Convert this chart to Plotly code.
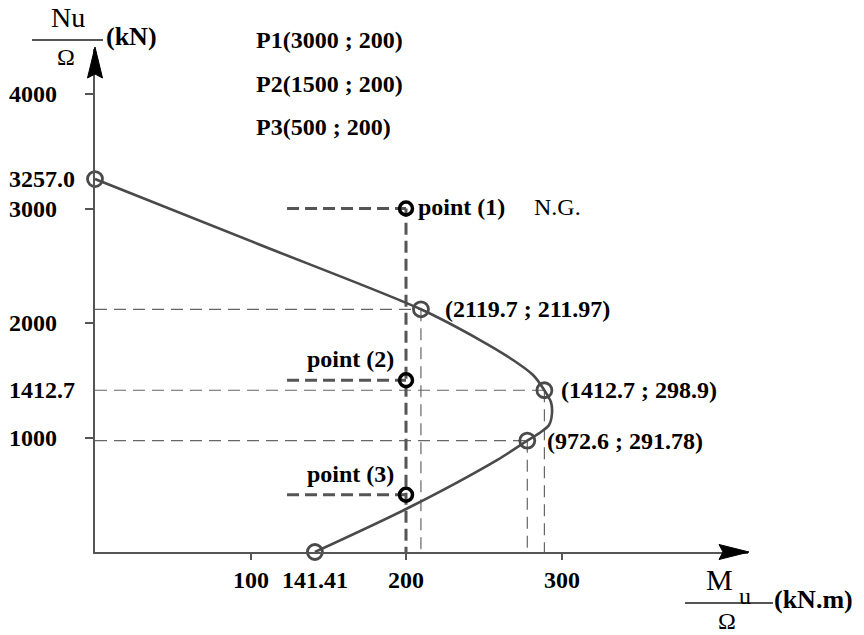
import plotly.graph_objects as go

# ---------------- data ----------------
M_curve = [0, 104.8, 209.6, 247.6, 268.8, 281.7, 289.0, 293.2, 293.9, 292.0, 286.8, 278.0, 258.5, 201.3, 141.41]
N_curve = [3257.0, 2690, 2119.7, 1851, 1677, 1546, 1412.7, 1310, 1214, 1109, 1048, 972.6, 803, 384, 0]

M_key = [0, 209.6, 289.0, 278.0, 141.41]
N_key = [3257.0, 2119.7, 1412.7, 972.6, 0]
key_labels = ["", "(2119.7 ; 211.97)", "(1412.7 ; 298.9)", "(972.6 ; 291.78)", ""]

M_check = [200, 200, 200]
N_check = [3000, 1500, 500]
check_labels = ["point (1)", "point (2)", "point (3)"]
check_info = ["P1(3000 ; 200)", "P2(1500 ; 200)", "P3(500 ; 200)"]
M_check_dash_start = 123.5

x_tickvals = [100, 141.41, 200, 300]
x_ticktext = ["100", "141.41", "200", "300"]
y_tickvals = [1000, 1412.7, 2000, 3000, 3257.0, 4000]
y_ticktext = ["1000", "1412.7", "2000", "3000", "3257.0", "4000"]
y_tickmarks = [1000, 2000, 3000, 4000]
x_tickmarks = [100, 200, 300]

# ---------------- layout geometry ----------------
W, H = 864, 635
L, R, T, B = 95, 116, 49, 83
PW, PH = W - L - R, H - T - B
X_MAX = PW / 1.555
Y_MAX = PH / 0.1145


def pxx(xp):
    return (xp - L) / PW


def pxy(yp):
    return (H - B - yp) / PH


FONT = "Liberation Serif"
GREY = "#555555"
DGREY = "#4a4a4a"

fig = go.Figure()

# thin dashed guide lines to the key points
gx, gy = [], []
for m, n in zip(M_key[1:4], N_key[1:4]):
    gx += [0, m, None, m, m, None]
    gy += [n, n, None, n, 0, None]
fig.add_trace(go.Scatter(x=gx, y=gy, mode="lines", hoverinfo="skip",
                         line=dict(color="#666666", width=1.2, dash="12px,7px")))

# thick dashed lines for checked points
cx, cy = [], []
for m, n in zip(M_check, N_check):
    cx += [M_check_dash_start, m, None]
    cy += [n, n, None]
cx += [M_check[0], M_check[0]]
cy += [-60, max(N_check)]
fig.add_trace(go.Scatter(x=cx, y=cy, mode="lines", hoverinfo="skip", cliponaxis=False,
                         line=dict(color=GREY, width=3, dash="12px,6px")))

# interaction curve
fig.add_trace(go.Scatter(x=M_curve, y=N_curve, mode="lines",
                         line=dict(color=DGREY, width=2.6, shape="spline", smoothing=0.8)))

# key markers
fig.add_trace(go.Scatter(x=M_key, y=N_key, mode="markers", cliponaxis=False,
                         marker=dict(symbol="circle-open", size=15, color=DGREY,
                                     line=dict(width=2.8, color=DGREY))))

# checked points
fig.add_trace(go.Scatter(x=M_check, y=N_check, mode="markers", cliponaxis=False,
                         marker=dict(symbol="circle-open", size=13, color="#000000",
                                     line=dict(width=3.5, color="#000000"))))

ann = []
bold = dict(family=FONT, size=24, color="#000000", weight="bold")
reg = dict(family=FONT, size=24, color="#000000")

# y tick labels (left aligned)
for v, t in zip(y_tickvals, y_ticktext):
    ann.append(dict(x=0, y=v, xref="x", yref="y", text=t, showarrow=False,
                    xanchor="left", yanchor="middle", xshift=-88, font=bold))
# x tick labels
for v, t in zip(x_tickvals, x_ticktext):
    ann.append(dict(x=v, y=pxy(580), xref="x", yref="paper", text=t, showarrow=False,
                    xanchor="center", yanchor="middle", font=bold))

# key point labels
key_dx = [0, 22, 15, 18]
for i in range(1, 4):
    ann.append(dict(x=M_key[i], y=N_key[i], xref="x", yref="y", text=key_labels[i],
                    showarrow=False, xanchor="left", yanchor="middle",
                    xshift=key_dx[i], font=bold))

# checked point labels
ann.append(dict(x=M_check[0], y=N_check[0], xref="x", yref="y", text=check_labels[0],
                showarrow=False, xanchor="left", yanchor="middle", xshift=10, yshift=2, font=bold))
ann.append(dict(x=M_check[0], y=N_check[0], xref="x", yref="y", text="N.G.",
                showarrow=False, xanchor="left", yanchor="middle", xshift=126, yshift=2, font=reg))
for i in (1, 2):
    ann.append(dict(x=M_check[i], y=N_check[i], xref="x", yref="y", text=check_labels[i],
                    showarrow=False, xanchor="right", yanchor="middle",
                    xshift=-10, yshift=21, font=bold))

# P info
for i, t in enumerate(check_info):
    ann.append(dict(x=pxx(254), y=pxy(40 + 43.5 * i), xref="paper", yref="paper", text=t,
                    showarrow=False, xanchor="left", yanchor="middle", font=bold))

# axis titles
big = dict(family=FONT, size=28, color="#000000")
ann.append(dict(x=pxx(68), y=pxy(18), xref="paper", yref="paper", text="Nu",
                showarrow=False, xanchor="center", yanchor="middle", font=big))
ann.append(dict(x=pxx(66), y=pxy(57), xref="paper", yref="paper", text="Ω",
                showarrow=False, xanchor="center", yanchor="middle", font=dict(family=FONT, size=24, color="#000")))
ann.append(dict(x=pxx(104), y=pxy(37), xref="paper", yref="paper", text="(kN)",
                showarrow=False, xanchor="left", yanchor="middle", font=dict(family=FONT, size=26, color="#000", weight="bold")))

ann.append(dict(x=pxx(719), y=pxy(579), xref="paper", yref="paper", text="M",
                showarrow=False, xanchor="center", yanchor="middle", font=dict(family=FONT, size=30, color="#000")))
ann.append(dict(x=pxx(745), y=pxy(596), xref="paper", yref="paper", text="u",
                showarrow=False, xanchor="center", yanchor="middle", font=dict(family=FONT, size=24, color="#000")))
ann.append(dict(x=pxx(727), y=pxy(621), xref="paper", yref="paper", text="Ω",
                showarrow=False, xanchor="center", yanchor="middle", font=dict(family=FONT, size=24, color="#000")))
ann.append(dict(x=pxx(772), y=pxy(600), xref="paper", yref="paper", text="(kN.m)",
                showarrow=False, xanchor="left", yanchor="middle", font=dict(family=FONT, size=26, color="#000", weight="bold")))

shapes = [
    # fraction lines
    dict(type="line", xref="paper", yref="paper", x0=pxx(32), x1=pxx(103), y0=pxy(40), y1=pxy(40),
         line=dict(color=GREY, width=1.8)),
    dict(type="line", xref="paper", yref="paper", x0=pxx(685), x1=pxx(773), y0=pxy(603), y1=pxy(603),
         line=dict(color=GREY, width=1.8)),
    # arrowheads
    dict(type="path", xref="paper", yref="paper", fillcolor="#000", line=dict(color="#000", width=1),
         path=f"M {pxx(749)},{pxy(552)} L {pxx(719)},{pxy(544.5)} L {pxx(723)},{pxy(552)} L {pxx(719)},{pxy(559.5)} Z"),
    dict(type="path", xref="paper", yref="paper", fillcolor="#000", line=dict(color="#000", width=1),
         path=f"M {pxx(95)},{pxy(47)} L {pxx(87.5)},{pxy(78)} L {pxx(95)},{pxy(74)} L {pxx(102.5)},{pxy(78)} Z"),
]

fig.update_layout(
    width=W, height=H,
    margin=dict(l=L, r=R, t=T, b=B, pad=0),
    paper_bgcolor="white", plot_bgcolor="white",
    showlegend=False,
    annotations=ann, shapes=shapes,
    xaxis=dict(range=[0, X_MAX], showgrid=False, zeroline=False, showline=True,
               linecolor=GREY, linewidth=1.5, ticks="outside", ticklen=6, tickwidth=1.5,
               tickcolor=GREY, tickvals=x_tickmarks, showticklabels=False, fixedrange=True),
    yaxis=dict(range=[0, Y_MAX], showgrid=False, zeroline=False, showline=True,
               linecolor=GREY, linewidth=1.5, ticks="outside", ticklen=8, tickwidth=1.5,
               tickcolor=GREY, tickvals=y_tickmarks, showticklabels=False, fixedrange=True),
)

fig.write_html("out.html", config={"displayModeBar": False},
               post_script="document.body.style.margin='0px';document.body.style.overflow='hidden';")
